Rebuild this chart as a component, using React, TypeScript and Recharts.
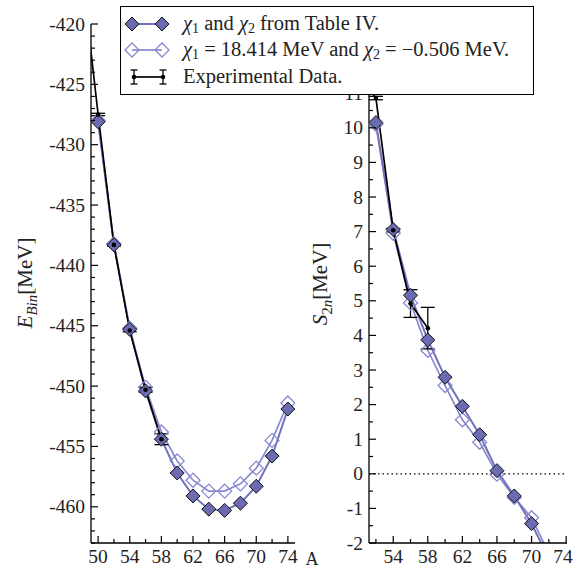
import React from 'react';
import { LineChart, Line, XAxis, YAxis, ErrorBar, ReferenceLine } from 'recharts';

// mass numbers A of the isotopes
const massNumbers = [48, 50, 52, 54, 56, 58, 60, 62, 64, 66, 68, 70, 72, 74];

// binding energies [MeV]
const ebinTableIV = [null, -428.1, -438.3, -445.3, -450.4, -454.4, -457.2, -459.1, -460.2, -460.3, -459.7, -458.3, -455.8, -451.9];
const ebinFixedChi = [null, -428.0, -438.2, -445.2, -450.1, -453.8, -456.2, -457.8, -458.7, -458.7, -458.1, -456.8, -454.5, -451.4];
const ebinExp = [-416.0, -427.5, -438.3, -445.4, -450.3, -454.4, null, null, null, null, null, null, null, null];
const ebinExpErr = [0.1, 0.1, 0.1, 0.1, 0.2, 0.45, null, null, null, null, null, null, null, null];

// two-neutron separation energies [MeV]
const s2nTableIV = [null, null, 10.15, 7.06, 5.16, 3.87, 2.79, 1.95, 1.13, 0.09, -0.64, -1.44, -2.45, -3.6];
const s2nFixedChi = [null, null, 10.1, 6.95, 4.94, 3.57, 2.55, 1.56, 0.91, -0.01, -0.68, -1.27, -2.3, -3.5];
const s2nExp = [null, 11.5, 10.86, 7.04, 4.92, 4.21, null, null, null, null, null, null, null, null];
const s2nExpErr = [null, 0.05, 0.05, 0.05, 0.4, 0.6, null, null, null, null, null, null, null, null];

// tick labels (12 and 13 sit under the legend)
const ebinXLabels = [50, 54, 58, 62, 66, 70, 74];
const ebinYLabels = [-460, -455, -450, -445, -440, -435, -430, -425, -420];
const s2nXLabels = [54, 58, 62, 66, 70, 74];
const s2nYLabels = [-2, -1, 0, 1, 2, 3, 4, 5, 6, 7, 8, 9, 10, 11];

const steps = (from: number, to: number, step: number) => {
  const out: number[] = [];
  for (let v = from; v <= to + 1e-9; v += step) out.push(Math.round(v * 100) / 100);
  return out;
};
const ebinXTicks = steps(50, 74, 2);
const ebinYTicks = steps(-463, -420, 1);
const s2nXTicks = steps(52, 74, 2);
const s2nYTicks = steps(-2, 13, 0.5);

const ebinRows = massNumbers.map((A, i) => ({
  A, fit: ebinTableIV[i], fixed: ebinFixedChi[i], exp: ebinExp[i], err: ebinExpErr[i],
}));
const s2nRows = massNumbers.map((A, i) => ({
  A, fit: s2nTableIV[i], fixed: s2nFixedChi[i], exp: s2nExp[i], err: s2nExpErr[i],
}));

const FONT = '"Liberation Serif", "Times New Roman", serif';
const FILL = '#6b6bb1';
const LINE_FIT = '#7272b9';
const LINE_FIXED = '#8888d0';
const MARGIN = 6;
const MAJOR_MARKS = [12, 13]; // major ticks without a visible label

const makeTick = (side: string, labels: number[], showLabel: boolean, maxTextX = 9999) => (props: any) => {
  const { x, y, payload } = props;
  const v = payload.value;
  const labelled = labels.some((l) => Math.abs(l - v) < 1e-6);
  const major = labelled || (side !== 'bottom' && side !== 'top' && MAJOR_MARKS.includes(v));
  const len = major ? 7 : 4;
  const txt = showLabel && labelled ? String(v) : '';
  if (side === 'bottom') {
    const ay = y - MARGIN;
    return (
      <g>
        <line x1={x} x2={x} y1={ay} y2={ay - len} stroke="#000" strokeWidth={1.2} />
        {txt && <text x={Math.min(x, maxTextX)} y={y} dy="0.7em" textAnchor="middle" fontFamily={FONT} fontSize={19.5} fill="#222">{txt}</text>}
      </g>
    );
  }
  if (side === 'top') {
    const ay = y + MARGIN;
    return <line x1={x} x2={x} y1={ay} y2={ay + len} stroke="#000" strokeWidth={1.2} />;
  }
  if (side === 'left') {
    const ax = x + MARGIN;
    return (
      <g>
        <line x1={ax} x2={ax + len} y1={y} y2={y} stroke="#000" strokeWidth={1.2} />
        {txt && <text x={x} y={y} dy="0.34em" textAnchor="end" fontFamily={FONT} fontSize={19.5} fill="#222">{txt}</text>}
      </g>
    );
  }
  const ax = x - MARGIN;
  return <line x1={ax} x2={ax - len} y1={y} y2={y} stroke="#000" strokeWidth={1.2} />;
};

const diamond = (cx: number, cy: number, r: number) =>
  `M${cx},${cy - r}L${cx + r},${cy}L${cx},${cy + r}L${cx - r},${cy}Z`;

const FilledDiamond = (props: any) => {
  const { cx, cy, index } = props;
  if (cx == null || cy == null || props.value == null) return <g key={`f${index}`} />;
  return <path key={`f${index}`} d={diamond(cx, cy, 7)} fill={FILL} stroke="#111" strokeWidth={1} />;
};
const OpenDiamond = (props: any) => {
  const { cx, cy, index } = props;
  if (cx == null || cy == null || props.value == null) return <g key={`o${index}`} />;
  return <path key={`o${index}`} d={diamond(cx, cy, 7)} fill="none" stroke={LINE_FIXED} strokeWidth={1.3} />;
};
const ExpDot = (props: any) => {
  const { cx, cy, index } = props;
  if (cx == null || cy == null || props.value == null) return <g key={`e${index}`} />;
  return <circle key={`e${index}`} cx={cx} cy={cy} r={2.3} fill="#000" />;
};

const axisLine = { stroke: '#000', strokeWidth: 1.3 };

interface PanelProps {
  rows: any[];
  width: number;
  yWidth: number;
  right: number;
  xDomain: number[];
  yDomain: number[];
  xTicks: number[];
  yTicks: number[];
  xLabels: number[];
  yLabels: number[];
  zeroLine?: boolean;
}

const Panel: React.FC<PanelProps> = (p) => (
  <LineChart width={p.width} height={571} data={p.rows} margin={{ top: 24, right: p.right, bottom: 0, left: 0 }}>
    <XAxis xAxisId="b" dataKey="A" type="number" domain={p.xDomain} ticks={p.xTicks} interval={0}
      allowDataOverflow tickLine={false} tickSize={0} tickMargin={MARGIN} height={28} axisLine={axisLine}
      tick={makeTick('bottom', p.xLabels, true, p.width - 11)} />
    <XAxis xAxisId="t" orientation="top" dataKey="A" type="number" domain={p.xDomain} ticks={p.xTicks} interval={0}
      allowDataOverflow tickLine={false} tickSize={0} tickMargin={MARGIN} height={0} axisLine={axisLine}
      tick={makeTick('top', p.xLabels, false)} />
    <YAxis yAxisId="l" type="number" domain={p.yDomain} ticks={p.yTicks} interval={0}
      allowDataOverflow tickLine={false} tickSize={0} tickMargin={MARGIN} width={p.yWidth} axisLine={axisLine}
      tick={makeTick('left', p.yLabels, true)} />
    <YAxis yAxisId="r" orientation="right" type="number" domain={p.yDomain} ticks={p.yTicks} interval={0}
      allowDataOverflow tickLine={false} tickSize={0} tickMargin={MARGIN} width={0} axisLine={axisLine}
      tick={makeTick('right', p.yLabels, false)} />
    {p.zeroLine && (
      <ReferenceLine xAxisId="b" yAxisId="l" y={0} stroke="#000" strokeWidth={1.3} strokeDasharray="1.5 3" />
    )}
    <Line xAxisId="b" yAxisId="l" dataKey="fixed" stroke={LINE_FIXED} strokeWidth={1.7}
      dot={OpenDiamond} activeDot={false} isAnimationActive={false} />
    <Line xAxisId="b" yAxisId="l" dataKey="fit" stroke={LINE_FIT} strokeWidth={2}
      dot={FilledDiamond} activeDot={false} isAnimationActive={false} />
    <Line xAxisId="b" yAxisId="l" dataKey="exp" stroke="#000" strokeWidth={1.7}
      dot={ExpDot} activeDot={false} isAnimationActive={false}>
      <ErrorBar dataKey="err" direction="y" width={7} stroke="#000" strokeWidth={1.3} isAnimationActive={false} />
    </Line>
  </LineChart>
);

const LegendBox: React.FC = () => {
  const rowStyle: React.CSSProperties = { position: 'absolute', left: 62, fontFamily: FONT, fontSize: 20.5, lineHeight: '22px', color: '#222', whiteSpace: 'nowrap' };
  const sub: React.CSSProperties = { fontSize: 14, verticalAlign: '-3px', fontStyle: 'normal' };
  return (
    <div style={{ position: 'absolute', left: 120, top: 6, width: 412, height: 87, background: '#fff', border: '1.3px solid #000', zIndex: 5 }}>
      <svg width={60} height={87} style={{ position: 'absolute', left: 0, top: 0 }}>
        <line x1={11} x2={41} y1={17} y2={17} stroke={LINE_FIT} strokeWidth={2} />
        <path d={diamond(11, 17, 7)} fill={FILL} stroke="#111" />
        <path d={diamond(41, 17, 7)} fill={FILL} stroke="#111" />
        <line x1={11} x2={41} y1={43} y2={43} stroke={LINE_FIXED} strokeWidth={1.7} />
        <path d={diamond(11, 43, 7)} fill="none" stroke={LINE_FIXED} strokeWidth={1.3} />
        <path d={diamond(41, 43, 7)} fill="none" stroke={LINE_FIXED} strokeWidth={1.3} />
        <line x1={13} x2={42} y1={70} y2={70} stroke="#000" strokeWidth={1.7} />
        {[13, 42].map((x) => (
          <g key={x}>
            <line x1={x} x2={x} y1={63} y2={77} stroke="#000" strokeWidth={1.3} />
            <line x1={x - 3.5} x2={x + 3.5} y1={63} y2={63} stroke="#000" strokeWidth={1.3} />
            <line x1={x - 3.5} x2={x + 3.5} y1={77} y2={77} stroke="#000" strokeWidth={1.3} />
            <circle cx={x} cy={70} r={2.3} fill="#000" />
          </g>
        ))}
      </svg>
      <div style={{ ...rowStyle, top: 5 }}>
        <i>χ</i><span style={sub}>1</span> and <i>χ</i><span style={sub}>2</span> from Table IV.
      </div>
      <div style={{ ...rowStyle, top: 31 }}>
        <i>χ</i><span style={sub}>1</span> = 18.414 MeV and <i>χ</i><span style={sub}>2</span> = −0.506 MeV.
      </div>
      <div style={{ ...rowStyle, top: 58 }}>Experimental Data.</div>
    </div>
  );
};

export default function App() {
  return (
    <div style={{ position: 'absolute', left: 0, top: 0, width: 574, height: 571, background: '#fff', overflow: 'hidden' }}>
      <div style={{ position: 'absolute', left: 0, top: 0 }}>
        <Panel rows={ebinRows} width={300} yWidth={91} right={5} xDomain={[49.1, 74.9]} yDomain={[-463, -420]}
          xTicks={ebinXTicks} yTicks={ebinYTicks} xLabels={ebinXLabels} yLabels={ebinYLabels} />
      </div>
      <div style={{ position: 'absolute', left: 300, top: 0 }}>
        <Panel rows={s2nRows} width={274} yWidth={69} right={7} xDomain={[51.2, 74.1]} yDomain={[-2, 13]}
          xTicks={s2nXTicks} yTicks={s2nYTicks} xLabels={s2nXLabels} yLabels={s2nYLabels} zeroLine />
      </div>
      <svg width={574} height={571} style={{ position: 'absolute', left: 0, top: 0, pointerEvents: 'none' }}>
        <text transform="translate(25,283) rotate(-90)" textAnchor="middle" dy="0.35em" fontFamily={FONT} fontSize={21} fill="#222">
          <tspan fontStyle="italic">E</tspan>
          <tspan fontStyle="italic" fontSize={15} dy={5}>Bin</tspan>
          <tspan dy={-5}>[MeV]</tspan>
        </text>
        <text transform="translate(320,284) rotate(-90)" textAnchor="middle" dy="0.35em" fontFamily={FONT} fontSize={21} fill="#222">
          <tspan fontStyle="italic">S</tspan>
          <tspan fontSize={15} dy={5}><tspan fontStyle="normal">2</tspan><tspan fontStyle="italic">n</tspan></tspan>
          <tspan dy={-5}>[MeV]</tspan>
        </text>
        <text x={312} y={559} dy="0.35em" textAnchor="middle" fontFamily={FONT} fontSize={18} fill="#222">A</text>
      </svg>
      <LegendBox />
    </div>
  );
}
